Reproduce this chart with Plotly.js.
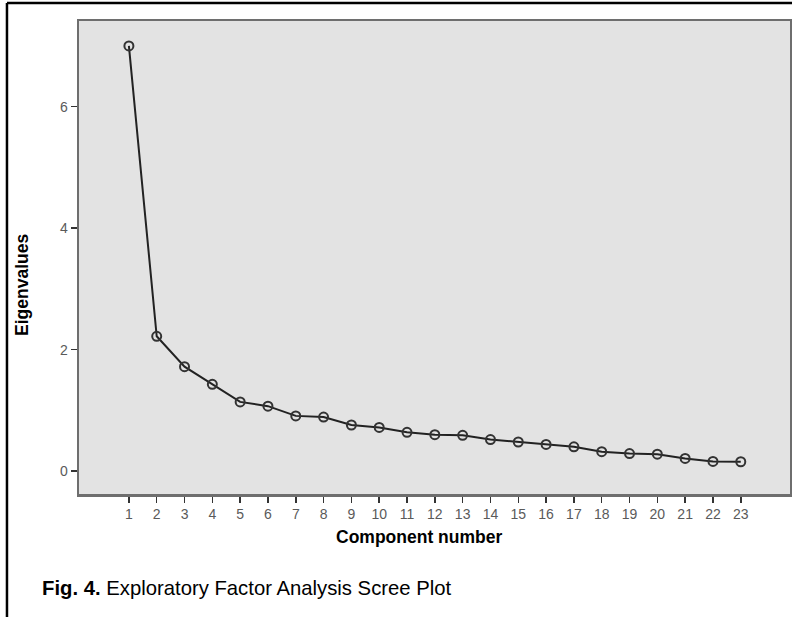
<!DOCTYPE html>
<html>
<head>
<meta charset="utf-8">
<script src="https://cdn.plot.ly/plotly-3.0.1.min.js"></script>
<style>html,body{margin:0;padding:0;background:#fff;}#chart{width:792px;height:617px;}</style>
</head>
<body>
<div id="chart"></div>
<script>
var components = [1,2,3,4,5,6,7,8,9,10,11,12,13,14,15,16,17,18,19,20,21,22,23];
var eigenvalues = [7.0, 2.22, 1.72, 1.43, 1.14, 1.07, 0.91, 0.89, 0.76, 0.72, 0.64, 0.60, 0.59, 0.52, 0.48, 0.44, 0.40, 0.32, 0.29, 0.28, 0.21, 0.16, 0.155];
var xTickLabels = components.map(String);
var yTickVals = [0, 2, 4, 6];

var font = "'Liberation Sans', Arial, sans-serif";

var trace = {
  x: components,
  y: eigenvalues,
  type: 'scatter',
  mode: 'lines+markers',
  line: {color: '#222', width: 2},
  marker: {symbol: 'circle-open', size: 9, color: '#333', line: {width: 2, color: '#333'}},
  showlegend: false,
  hoverinfo: 'x+y'
};

var layout = {
  width: 792, height: 617,
  margin: {l: 79, r: 2, t: 21, b: 123},
  paper_bgcolor: '#ffffff',
  plot_bgcolor: '#e3e3e3',
  font: {family: font, color: '#555'},
  xaxis: {
    range: [-0.794, 24.77],
    tickmode: 'array', tickvals: components, ticktext: xTickLabels,
    ticks: 'outside', ticklen: 6, tickwidth: 1.5, tickcolor: '#333',
    showgrid: false, zeroline: false,
    showline: true, linecolor: '#6e6e6e', linewidth: 2.5, mirror: true,
    tickfont: {family: font, size: 14, color: '#5a5a5a'}
  },
  yaxis: {
    range: [-0.376, 7.41],
    tickmode: 'array', tickvals: yTickVals, ticktext: yTickVals.map(String),
    ticks: 'outside', ticklen: 6, tickwidth: 1.5, tickcolor: '#333',
    showgrid: false, zeroline: false,
    showline: true, linecolor: '#6e6e6e', linewidth: 2.5, mirror: true,
    tickfont: {family: font, size: 14, color: '#5a5a5a'}
  },
  annotations: [
    {text: '<b>Eigenvalues</b>', xref: 'paper', yref: 'paper', x: -0.0802, y: 0.4419,
     xanchor: 'center', yanchor: 'middle', textangle: -90, showarrow: false,
     font: {family: font, size: 17.5, color: '#000'}},
    {text: '<b>Component number</b>', xref: 'paper', yref: 'paper', x: 0.4782, y: -0.0909,
     xanchor: 'center', yanchor: 'middle', showarrow: false,
     font: {family: font, size: 17.5, color: '#000'}},
    {text: '<b>Fig. 4.</b> Exploratory Factor Analysis Scree Plot', xref: 'paper', yref: 'paper',
     x: -0.0549, y: -0.1987, xanchor: 'left', yanchor: 'middle', showarrow: false,
     font: {family: font, size: 20.3, color: '#000'}}
  ],
  shapes: [
    {type: 'line', xref: 'paper', yref: 'paper', x0: -0.1013, x1: -0.1013, y0: -0.30, y1: 1.038,
     line: {color: '#000', width: 2.5}},
    {type: 'line', xref: 'paper', yref: 'paper', x0: -0.1013, x1: 1.01, y0: 1.038, y1: 1.038,
     line: {color: '#000', width: 2.5}}
  ]
};

Plotly.newPlot('chart', [trace], layout, {displayModeBar: false, staticPlot: true});
</script>
</body>
</html>
